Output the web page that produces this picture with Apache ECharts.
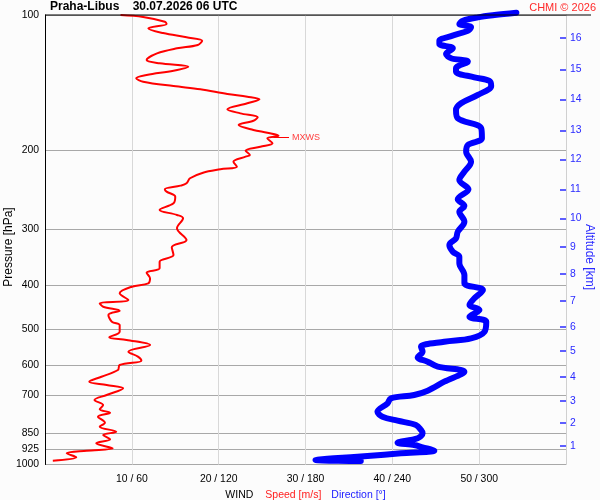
<!DOCTYPE html>
<html><head><meta charset="utf-8">
<script src="https://cdn.jsdelivr.net/npm/echarts@6/dist/echarts.min.js"></script>
<style>html,body{margin:0;padding:0;background:#fcfcfc}#c{width:600px;height:500px}</style>
</head><body><div id="c"></div>
<script>
// Wind speed profile (m/s) vs pressure (hPa)
const speedPressure = [100.0,101.0,103.5,104.7,107.1,109.7,112.1,114.1,116.6,118.6,121.7,125.9,128.1,130.3,133.0,136.0,138.3,140.7,143.9,146.3,149.9,152.0,154.0,157.2,162.1,165.5,168.9,171.9,175.7,180.2,182.8,185.6,188.1,193.0,196.4,200.4,204.9,206.6,212.0,217.5,220.4,224.3,230.8,236.8,239.7,244.2,247.2,253.6,262.4,271.4,278.5,283.3,298.0,316.6,328.6,342.0,353.9,366.1,374.4,385.3,395.3,402.2,416.0,430.5,437.9,445.6,454.8,464.9,481.2,489.4,506.5,521.2,528.5,542.2,561.2,575.6,587.6,600.7,616.3,637.8,654.3,665.5,676.9,700.5,718.7,737.3,753.7,766.9,782.8,807.3,823.9,845.3,859.8,878.9,897.1,920.4,931.8,944.3,963.8,980.7];
const speedValues = [8.7,11.3,13.8,14.0,11.9,13.6,16.3,18.1,17.6,15.2,12.9,11.7,13.2,16.5,14.8,11.7,10.5,11.3,14.8,17.9,21.0,23.3,24.7,23.3,21.0,22.5,24.5,24.0,22.3,24.0,25.6,26.9,25.6,26.2,24.8,23.1,23.6,23.1,21.7,22.1,20.2,18.2,16.7,16.3,15.6,13.8,14.0,15.0,14.8,13.2,15.2,15.9,15.2,16.3,14.6,14.8,13.2,13.2,11.7,12.1,11.9,10.0,8.6,9.6,6.3,6.7,8.6,7.3,7.7,8.6,8.6,7.4,9.4,12.1,9.6,10.7,11.1,8.6,8.4,6.5,5.1,7.1,9.0,7.1,5.7,6.7,6.3,7.5,6.1,6.9,6.3,8.2,6.7,7.5,5.9,7.8,4.8,2.5,3.6,0.9];
// Wind direction profile (deg) vs pressure (hPa)
const dirPressure = [98.8,100.0,101.2,103.0,104.7,106.5,108.4,111.4,114.1,116.0,118.6,122.1,124.8,127.0,131.4,133.7,137.6,140.2,143.9,150.6,157.2,162.7,169.7,178.7,188.1,194.6,201.4,212.0,223.2,232.9,244.2,257.0,266.0,273.9,288.3,303.5,313.9,324.9,336.2,344.9,356.8,378.8,395.3,409.1,426.8,441.7,453.2,469.0,481.2,506.5,523.9,533.1,546.9,561.2,577.4,590.6,605.9,621.6,654.3,685.1,700.5,712.3,730.8,763.0,782.8,799.0,816.8,838.0,852.3,874.4,894.3,904.9,915.6,931.8,944.3,957.4,968.7,977.2,982.2];
const dirValues = [325.7,310.6,299.1,288.7,286.3,294.4,292.2,280.6,272.5,272.5,281.8,277.1,280.6,292.2,284.0,284.0,296.7,307.1,308.3,299.1,287.5,284.0,285.2,301.4,301.9,292.2,291.0,294.4,289.8,286.3,292.6,285.2,289.8,286.3,289.8,285.2,284.0,279.4,281.8,286.3,286.3,289.8,289.8,302.6,296.7,293.3,300.2,293.3,304.9,303.7,294.4,275.9,259.8,260.9,257.5,264.4,271.4,289.8,275.9,264.4,255.1,239.0,236.7,229.7,233.2,243.6,256.3,259.8,260.9,257.5,243.6,255.1,260.9,269.0,245.9,222.8,199.6,186.9,218.2];
// Axis ticks
const pressureTicks = [100,200,300,400,500,600,700,850,925,1000];
const speedTicks = [10,20,30,40,50];
const dirTicks = [60,120,180,240,300];
const altKm = [1,2,3,4,5,6,7,8,9,10,11,12,13,14,15,16];
const altPressures = [909.6,809.5,721.2,637.7,559.2,493.6,432.1,376.9,327.6,283.4,244.2,209.5,180.7,154.0,132.1,112.3];
// Max wind marker
const mxwsPressure = 187;
const mxwsSpeed = 26.9;

const F = '"Liberation Sans", Arial, sans-serif';
const speedData = speedPressure.map((p, i) => [speedValues[i], p]);
const dirData = dirPressure.map((p, i) => [dirValues[i], p]);

const chart = echarts.init(document.getElementById('c'));
chart.setOption({
  backgroundColor: '#fcfcfc',
  animation: false,
  textStyle: {fontFamily: F},
  title: [
    {text: 'Praha-Libus    30.07.2026 06 UTC', left: 50, top: 1, padding: 0,
     textStyle: {fontSize: 12, fontWeight: 'bold', color: '#000', fontFamily: F}},
    {text: 'CHMI © 2026', right: 4, top: 2, padding: 0,
     textStyle: {fontSize: 11, fontWeight: 'normal', color: '#ff2a2a', fontFamily: F}}
  ],
  grid: {left: 45, right: 34, top: 15, bottom: 35.5, containLabel: false, outerBoundsMode: 'none'},
  xAxis: [
    {type: 'value', min: 0, max: 60, interval: 10, position: 'bottom',
     axisLine: {show: false, onZero: false}, axisTick: {show: false},
     splitLine: {show: true, showMinLine: false, showMaxLine: false, lineStyle: {color: '#d8d8d8', width: 1}},
     axisLabel: {customValues: speedTicks, color: '#000', fontSize: 10.4, margin: 10, fontFamily: F,
       formatter: v => { const i = speedTicks.indexOf(v); return i < 0 ? '' : speedTicks[i] + ' / ' + dirTicks[i]; }},
     name: '{w|WIND}{s|Speed [m/s]}{d|Direction [°]}', nameLocation: 'middle', nameGap: 13,
     nameTextStyle: {fontFamily: F, rich: {
       w: {color: '#000', fontSize: 10.5, fontFamily: F, padding: [0, 12, 0, 0]},
       s: {color: '#ff2020', fontSize: 10.5, fontFamily: F, padding: [0, 10, 0, 0]},
       d: {color: '#2020ff', fontSize: 10.5, fontFamily: F}}}},
    {type: 'value', min: 0, max: 360, show: false}
  ],
  yAxis: [
    {type: 'log', logBase: 10, min: 100, max: 1000, inverse: true,
     axisLine: {show: true, onZero: false, lineStyle: {color: '#000', width: 1}},
     axisTick: {show: false, customValues: pressureTicks},
     axisLabel: {customValues: pressureTicks, color: '#000', fontSize: 10.4, margin: 6, fontFamily: F,
       formatter: v => String(Math.round(v))},
     splitLine: {show: true, lineStyle: {color: '#a8a8a8', width: 1}}},
    {type: 'log', logBase: 10, min: 100, max: 1000, inverse: true, position: 'right',
     axisLine: {show: true, onZero: false, lineStyle: {color: '#d0d0d0', width: 1}},
     axisTick: {show: true, inside: true, length: 6, customValues: altPressures, lineStyle: {color: '#2a2aff', width: 1.5}},
     axisLabel: {customValues: altPressures, color: '#2a2aff', fontSize: 10.4, margin: 4, fontFamily: F,
       formatter: v => { const i = altPressures.indexOf(v); return i < 0 ? '' : String(altKm[i]); }},
     splitLine: {show: false}}
  ],
  graphic: [
    {type: 'line', shape: {x1: 45, y1: 15, x2: 591, y2: 15}, style: {stroke: '#000', lineWidth: 1}, z: 100},
    {type: 'text', x: 9, y: 247, rotation: Math.PI / 2,
     style: {text: 'Pressure [hPa]', fill: '#000', font: '12px "Liberation Sans", Arial', align: 'center', verticalAlign: 'middle'}},
    {type: 'text', x: 589, y: 257, rotation: -Math.PI / 2,
     style: {text: 'Altitude [km]', fill: '#2a2aff', font: '12px "Liberation Sans", Arial', align: 'center', verticalAlign: 'middle'}}
  ],
  series: [
    {type: 'line', name: 'Direction', xAxisIndex: 1, yAxisIndex: 0, data: dirData,
     symbol: 'none', clip: false, smooth: 0.35,
     lineStyle: {color: '#0000ff', width: 6, cap: 'round', join: 'round'}},
    {type: 'line', name: 'Speed', xAxisIndex: 0, yAxisIndex: 0, data: speedData,
     symbol: 'none', clip: false, smooth: 0.35,
     lineStyle: {color: '#ff0000', width: 2, join: 'round'},
     markLine: {silent: true, symbol: 'none', animation: false,
       lineStyle: {color: '#ff0000', width: 1, type: 'solid'},
       label: {show: false},
       data: [
         [{coord: [-0.3, mxwsPressure]}, {coord: [1.2, mxwsPressure]}],
         [{coord: [mxwsSpeed - 0.6, mxwsPressure]}, {coord: [mxwsSpeed + 1.2, mxwsPressure],
            label: {show: true, position: 'end', formatter: 'MXWS', color: '#ff4040', fontSize: 9, distance: 3, fontFamily: F}}],
         [{coord: [58.9, mxwsPressure]}, {coord: [60.2, mxwsPressure]}]
       ]}}
  ]
});
</script></body></html>
